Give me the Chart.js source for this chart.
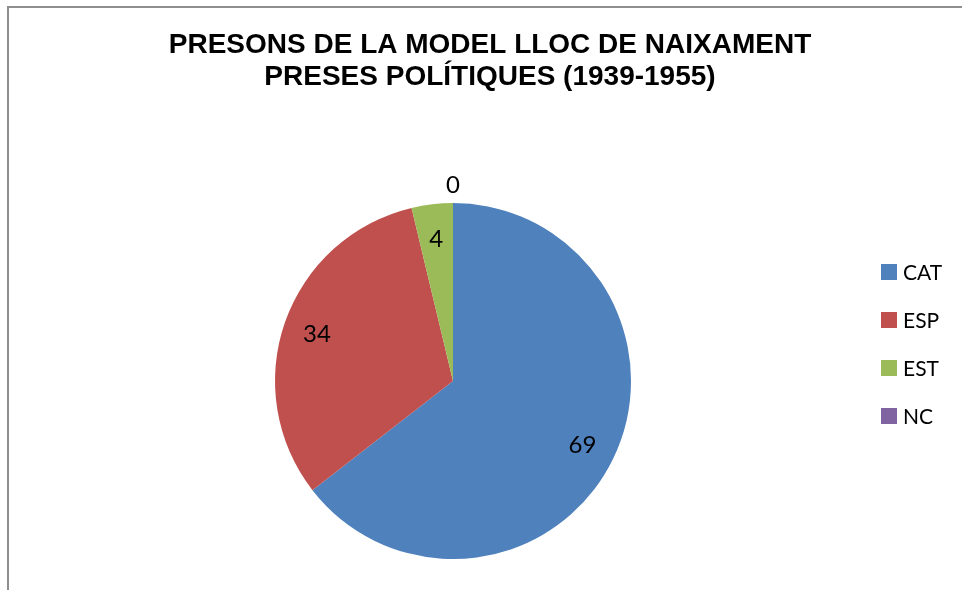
<!DOCTYPE html>
<html>
<head>
<meta charset="utf-8">
<script src="https://cdn.jsdelivr.net/npm/chart.js@4"></script>
<style>
  html, body { margin: 0; padding: 0; background: #fff; overflow: hidden; }
  #wrap { position: relative; width: 962px; height: 590px; }
  #frame { position: absolute; left: 7px; top: 6px; right: 0; bottom: 0;
           border-left: 2px solid #8e8e8e; border-top: 2px solid #8e8e8e; }
  canvas { position: absolute; left: 0; top: 0; }
</style>
</head>
<body>
<div id="wrap">
  <div id="frame"></div>
  <canvas id="pieChart" width="962" height="590"></canvas>
</div>
<script>
// dades
const labels = ['CAT', 'ESP', 'EST', 'NC'];
const values = [69, 34, 4, 0];
const colors = ['#4F81BD', '#C0504D', '#9BBB59', '#8064A2'];
const titleLines = ['PRESONS DE LA MODEL LLOC DE NAIXAMENT', 'PRESES POLÍTIQUES (1939-1955)'];

// titol + llegenda + etiquetes
const drawExtras = {
  id: 'drawExtras',
  afterDraw(chart) {
    const ctx = chart.ctx;
    ctx.save();

    // titol
    ctx.fillStyle = '#000';
    ctx.font = "bold 28px 'Liberation Sans', Arial, sans-serif";
    ctx.textAlign = 'center';
    ctx.textBaseline = 'alphabetic';
    ctx.fillText(titleLines[0], 490, 53);
    ctx.fillText(titleLines[1], 490, 85);

    // etiquetes de dades
    const meta = chart.getDatasetMeta(0);
    ctx.font = "24px Lato, 'Open Sans', sans-serif";
    ctx.textBaseline = 'middle';
    meta.data.forEach(function(arc, i) {
      const p = arc.getProps(['x', 'y', 'startAngle', 'endAngle', 'outerRadius'], true);
      const mid = (p.startAngle + p.endAngle) / 2;
      const r = values[i] === 0 ? p.outerRadius + 19 : p.outerRadius * 0.81;
      ctx.fillText(String(values[i]), p.x + Math.cos(mid) * r, p.y + Math.sin(mid) * r + 1);
    });

    // llegenda
    ctx.font = "21px Lato, 'Open Sans', sans-serif";
    ctx.textAlign = 'left';
    labels.forEach(function(lab, i) {
      const cy = 272 + i * 48;
      ctx.fillStyle = colors[i];
      ctx.fillRect(881, cy - 8, 16, 16);
      ctx.fillStyle = '#000';
      ctx.fillText(lab, 903, cy + 1);
    });

    ctx.restore();
  }
};

const pieChart = new Chart(document.getElementById('pieChart'), {
  type: 'pie',
  data: {
    labels: labels,
    datasets: [{
      data: values,
      backgroundColor: colors,
      borderWidth: 0
    }]
  },
  options: {
    responsive: false,
    animation: false,
    layout: {
      padding: { top: 203, bottom: 31, left: 275, right: 331 }
    },
    plugins: {
      legend: { display: false },
      title: { display: false },
      tooltip: { enabled: false }
    }
  },
  plugins: [drawExtras]
});
</script>
</body>
</html>
